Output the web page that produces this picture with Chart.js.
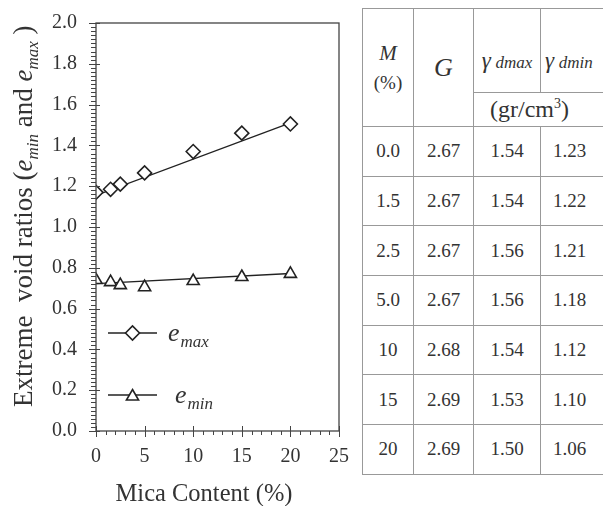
<!DOCTYPE html>
<html>
<head>
<meta charset="utf-8">
<script src="https://cdn.jsdelivr.net/npm/chart.js@4/dist/chart.umd.min.js"></script>
<style>
  html, body { margin: 0; padding: 0; background: #fff; overflow: hidden; }
  body { width: 603px; height: 506px; position: relative; font-family: "Liberation Serif", "Times New Roman", "DejaVu Serif", serif; color: #333; }
  #chartBox { position: absolute; left: 0; top: 0; width: 360px; height: 506px; }
  #props { position: absolute; left: 362px; top: 8px; border-collapse: collapse; table-layout: fixed; width: 250px; }
  #props td, #props th { border: 1px solid #999; text-align: center; vertical-align: middle; padding: 0; font-weight: normal; font-size: 19px; }
  #props td { height: 48.7px; }
  .m { font-style: italic; font-size: 21px; line-height: 29px; }
  .pc { line-height: 29px; font-size: 19px; }
  .G { font-style: italic; font-size: 26px; }
  .gam { padding-top: 20px !important; white-space: nowrap; }
  .gam i { font-size: 23px; }
  .gam span { font-style: italic; font-size: 17px; }
  #props th.unit { font-size: 24px; }
  .unit sup { font-size: 14px; }
</style>
</head>
<body>
<div id="chartBox"><canvas id="chart"></canvas></div>
<table id="props">
  <colgroup><col style="width:51px"><col style="width:60px"><col style="width:67px"><col style="width:72px"></colgroup>
  <thead>
    <tr style="height:84px">
      <th rowspan="2"><div class="m">M</div><div class="pc">(%)</div></th>
      <th rowspan="2"><span class="G">G</span></th>
      <th class="gam"><i>γ</i> <span>dmax</span></th>
      <th class="gam" style="text-align:left;padding-left:4px"><i>γ</i> <span>dmin</span></th>
    </tr>
    <tr style="height:34px"><th colspan="2" class="unit" style="text-align:left;padding-left:16px">(gr/cm<sup>3</sup>)</th></tr>
  </thead>
  <tbody id="rows"></tbody>
</table>
<script>
// mica content (%) and the measured extreme void ratios
const micaContent = [0, 1.5, 2.5, 5, 10, 15, 20];
const eMax = [1.17, 1.185, 1.21, 1.265, 1.37, 1.46, 1.505];
const eMin = [0.74, 0.73, 0.715, 0.705, 0.735, 0.755, 0.77];

// trend lines (ends at 0 and 20 %)
const fitX = [0, 20];
const eMaxFit = [1.155, 1.51];
const eMinFit = [0.722, 0.772];

const xTicks = [0, 5, 10, 15, 20, 25];
const yTicks = [0, 0.2, 0.4, 0.6, 0.8, 1.0, 1.2, 1.4, 1.6, 1.8, 2.0];

// table values
const tableM = ["0.0", "1.5", "2.5", "5.0", "10", "15", "20"];
const tableG = ["2.67", "2.67", "2.67", "2.67", "2.68", "2.69", "2.69"];
const gammaDMax = ["1.54", "1.54", "1.56", "1.56", "1.54", "1.53", "1.50"];
const gammaDMin = ["1.23", "1.22", "1.21", "1.18", "1.12", "1.10", "1.06"];

const tbody = document.getElementById("rows");
tableM.forEach((m, i) => {
  const tr = document.createElement("tr");
  [m, tableG[i], gammaDMax[i], gammaDMin[i]].forEach((v, j) => {
    const td = document.createElement("td");
    td.textContent = v;
    // last column is cut by the page edge, keep its text where the reference has it
    if (j === 3) { td.style.textAlign = "left"; td.style.paddingLeft = "12px"; }
    tr.appendChild(td);
  });
  tbody.appendChild(tr);
});

const ink = "#333";
const serif = '"Liberation Serif", "Times New Roman", "DejaVu Serif", serif';

function pairs(xs, ys) {
  return xs.map((x, i) => ({ x: x, y: ys[i] }));
}

// frame, tick marks, axis titles and the little legend
const decorPlugin = {
  id: "decor",
  afterDraw(chart) {
    const ctx = chart.ctx;
    const a = chart.chartArea;
    const xs = chart.scales.x, ys = chart.scales.y;
    ctx.save();
    ctx.strokeStyle = "#444";
    ctx.lineWidth = 1.3;
    ctx.strokeRect(a.left, a.top, a.right - a.left, a.bottom - a.top);

    ctx.lineWidth = 1;
    ctx.beginPath();
    for (let v = 0; v <= 25.001; v += 1) {
      const px = Math.round(xs.getPixelForValue(v)) + 0.5;
      const major = Math.abs(v % 5) < 1e-6;
      ctx.moveTo(px, a.bottom + (major ? 6 : 4));
      ctx.lineTo(px, a.bottom - (major ? 5 : 0));
    }
    for (let k = 0; k <= 100; k++) {
      const v = k * 0.02;
      const py = Math.round(ys.getPixelForValue(v)) + 0.5;
      const major = k % 10 === 0;
      ctx.moveTo(a.left - (major ? 7 : 5), py);
      ctx.lineTo(a.left + (major ? 4 : 0), py);
    }
    ctx.stroke();

    ctx.fillStyle = ink;
    // x title
    ctx.font = "24.5px " + serif;
    ctx.textAlign = "center";
    ctx.textBaseline = "alphabetic";
    ctx.fillText("Mica Content (%)", 204, 501);

    // y title, rotated, with italic subscripts
    ctx.save();
    ctx.translate(32, 407);
    ctx.rotate(-Math.PI / 2);
    ctx.textAlign = "left";
    const parts = [
      ["Extreme  void ratios (", "27px " + serif, 0],
      ["e", "italic 27px " + serif, 0],
      ["min", "italic 17px " + serif, 6],
      [" and ", "27px " + serif, 0],
      ["e", "italic 27px " + serif, 0],
      ["max", "italic 17px " + serif, 6],
      [" )", "27px " + serif, 0]
    ];
    let cx = 0;
    parts.forEach(p => {
      ctx.font = p[1];
      ctx.fillText(p[0], cx, p[2]);
      cx += ctx.measureText(p[0]).width;
    });
    ctx.restore();

    // legend
    const rows = [
      { y: 333, style: "rectRot", r: 7, ex: 168, sub: "max" },
      { y: 395, style: "triangle", r: 7, ex: 175, sub: "min" }
    ];
    rows.forEach(row => {
      ctx.strokeStyle = "#222";
      ctx.lineWidth = 1.3;
      ctx.beginPath();
      ctx.moveTo(108, row.y);
      ctx.lineTo(157, row.y);
      ctx.stroke();
      ctx.fillStyle = "#fff";
      ctx.lineWidth = 1.6;
      Chart.helpers.drawPoint(ctx, { pointStyle: row.style, radius: row.r, borderWidth: 1.6 }, 132.5, row.y + (row.style === "triangle" ? 1.5 : 0));
      ctx.fillStyle = ink;
      ctx.textAlign = "left";
      ctx.font = "italic 26px " + serif;
      ctx.fillText("e", row.ex, row.y + 8);
      const w = ctx.measureText("e").width;
      ctx.font = "italic 17px " + serif;
      ctx.fillText(row.sub, row.ex + w + 1, row.y + 14);
    });
    ctx.restore();
  }
};

new Chart(document.getElementById("chart"), {
  type: "scatter",
  data: {
    datasets: [
      {
        label: "emax",
        data: pairs(micaContent, eMax),
        pointStyle: "rectRot",
        pointRadius: 7,
        pointBorderWidth: 1.6,
        pointBorderColor: "#222",
        pointBackgroundColor: "#fff",
        showLine: false,
        order: 1
      },
      {
        label: "emin",
        data: pairs(micaContent, eMin),
        pointStyle: "triangle",
        pointRadius: 7,
        pointBorderWidth: 1.6,
        pointBorderColor: "#222",
        pointBackgroundColor: "#fff",
        showLine: false,
        order: 1
      },
      {
        label: "emax fit",
        data: pairs(fitX, eMaxFit),
        showLine: true,
        pointRadius: 0,
        borderColor: "#222",
        borderWidth: 1.3,
        order: 2
      },
      {
        label: "emin fit",
        data: pairs(fitX, eMinFit),
        showLine: true,
        pointRadius: 0,
        borderColor: "#222",
        borderWidth: 1.3,
        order: 2
      }
    ]
  },
  options: {
    responsive: true,
    maintainAspectRatio: false,
    animation: false,
    layout: { padding: { left: 0, right: 21, top: 23, bottom: 0 } },
    plugins: { legend: { display: false }, tooltip: { enabled: false } },
    scales: {
      x: {
        type: "linear",
        min: 0,
        max: 25,
        afterBuildTicks: s => { s.ticks = xTicks.map(v => ({ value: v })); },
        afterFit: s => { s.height = 75; s.paddingLeft = 0; s.paddingRight = 0; },
        grid: { display: false, drawTicks: false },
        border: { display: false },
        ticks: { padding: 14, color: ink, font: { family: serif, size: 20 } }
      },
      y: {
        type: "linear",
        min: 0,
        max: 2,
        afterBuildTicks: s => { s.ticks = yTicks.map(v => ({ value: v })); },
        afterFit: s => { s.width = 96; s.paddingTop = 0; s.paddingBottom = 0; },
        grid: { display: false, drawTicks: false },
        border: { display: false },
        ticks: { padding: 19, color: ink, font: { family: serif, size: 20 }, callback: v => v.toFixed(1) }
      }
    }
  },
  plugins: [decorPlugin]
});
</script>
</body>
</html>
